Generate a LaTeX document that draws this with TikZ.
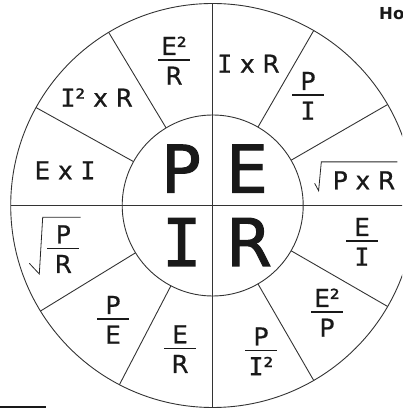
\documentclass[tikz,border=0pt]{standalone}
\usepackage{fontspec}
\setmainfont{DejaVu Sans}
\newfontfamily\slabfont{DejaVu Sans Mono}
\newfontfamily\lblfont[FakeBold=0.6]{DejaVu Sans}
\newfontfamily\lblslab[FakeBold=0.6]{DejaVu Sans Mono}
\newfontfamily\bigfont[FakeBold=1.6]{DejaVu Sans}
\newfontfamily\bigslab[FakeBold=1.6]{DejaVu Sans Mono}
\usetikzlibrary{calc}

% capital I with slab serifs, in the weight of the text around it
\newcommand\slabI{\slabfont}
\newcommand\Ic{{\slabI I}}

\tikzset{
  ring/.style={draw=black!80, line width=0.9pt},
  lbl/.style={inner sep=0pt, text=black!90, text height=18pt, text depth=0pt,
              font=\lblfont\let\slabI\lblslab\fontsize{24.7}{27}\selectfont},
  big/.style={inner sep=0pt, text=black!90,
              font=\bigfont\let\slabI\bigslab\fontsize{65.8}{70}\selectfont},
  barline/.style={draw=black!90, line width=1.3pt},
  radical/.style={draw=black!85, line width=0.8pt, line join=miter},
}

% fraction: #1 name, #2 centre of the bar, #3 numerator, #4 denominator
\newcommand\ratio[4]{%
  \coordinate (#1) at (#2);
  \node[lbl, anchor=base]  (#1-num) at ($(#1)+(0,5)$)    {#3};
  \node[lbl, anchor=north] (#1-den) at ($(#1)+(0,-6.5)$) {#4};
  \draw[barline] ($(#1)+(-16,0)$) -- ($(#1)+(16,0)$);
}

\begin{document}
\begin{tikzpicture}[x=1pt, y=1pt]
  \useasboundingbox (0,0) rectangle (402,409);
  \clip (0,0) rectangle (402,409);

  \coordinate (C) at (212.7,203.5);

  % wheel
  \draw[ring] (C) circle[radius=202];
  \draw[ring] (C) circle[radius=90.5];
  \draw[ring] ($(C)+(0,202)$) -- ($(C)+(0,-202)$);
  \draw[ring] ($(C)+(-202,0)$) -- ($(C)+(202,0)$);
  \foreach \a in {60,30,-30,-60,121,151,211.5,242.5}
    \draw[ring] ($(C)+(\a:90.5)$) -- ($(C)+(\a:202)$);

  % centre letters
  \node[big, anchor=base] (P) at (181,216.3) {P};
  \node[big, anchor=base] (E) at (247,216.3) {E};
  \node[big, anchor=base] (I) at (181.7,143) {\Ic};
  \node[big, anchor=base] (R) at (249,143)   {R};

  % single-line formulas
  \node[lbl, anchor=base] (ixr)  at (248.5,336.3) {\Ic{} x R};
  \node[lbl, anchor=base] (i2xr) at (96.7,302.3)  {\Ic² x R};
  \node[lbl, anchor=base] (exi)  at (65,229.7)    {E x \Ic};
  \node[lbl, anchor=base] (pxr)  at (364,219.7)   {P x R};
  \draw[radical] ($(pxr.base west)+(-18,6)$) -- ($(pxr.base west)+(-14,-1.4)$)
                 -- ($(pxr.north west)+(-11.3,9.2)$) -- ($(pxr.north east)+(2,9.2)$);

  % fractions
  \ratio{er}{174,349}{E²}{R}
  \ratio{pi}{308,314}{P}{\Ic}
  \ratio{ei}{362,168}{E}{\Ic}
  \ratio{ep}{327,97}{E²}{P}
  \ratio{pii}{261,58.5}{P}{\Ic²}
  \ratio{eR}{180,60.7}{E}{R}
  \ratio{pe}{113,90}{P}{E}
  \ratio{pr}{63.3,160.7}{P}{R}
  \draw[radical] ($(pr)+(-34,-15)$) -- ($(pr)+(-24,-25.7)$)
                 -- ($(pr)+(-20.6,31)$) -- ($(pr)+(17.4,31)$);

  % heading, running off the right edge
  \node[inner sep=0pt, anchor=base west, text=black!90,
        font=\bfseries\fontsize{16.5}{18}\selectfont] (head) at (379,389) {Ho};

  % rule at the bottom left
  \draw[black!90, line width=2.2pt] (0,2.3) -- (45.7,2.3);
\end{tikzpicture}
\end{document}
